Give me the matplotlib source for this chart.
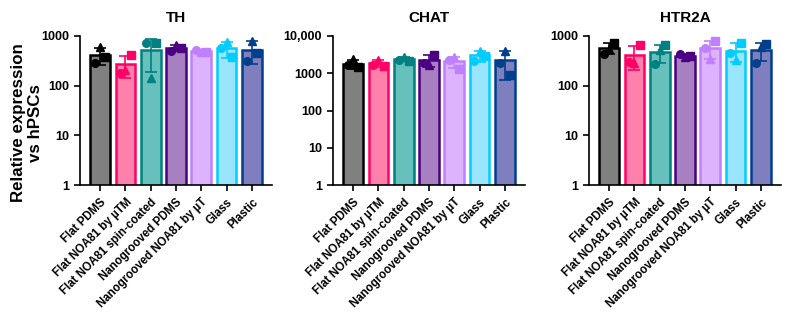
#!/usr/bin/env python3
import numpy as np
import matplotlib
matplotlib.use("Agg")
import matplotlib.pyplot as plt
from matplotlib.ticker import FixedLocator, NullLocator

plt.rcParams.update({
    "font.family": ["Liberation Sans", "DejaVu Sans"],
    "font.weight": "bold",
    "axes.linewidth": 1.2,
    "xtick.major.width": 1.2,
    "ytick.major.width": 1.2,
    "xtick.major.size": 4.5,
    "ytick.major.size": 4.5,
})

conditions = ["Flat PDMS", "Flat NOA81 by \u00b5TM", "Flat NOA81 spin-coated",
              "Nanogrooved PDMS", "Nanogrooved NOA81 by \u00b5T", "Glass", "Plastic"]
fill_colors = ["#808080", "#ff80ab", "#66c0bb", "#a680c0", "#ddb3ff", "#99e5ff", "#7f7fc0"]
edge_colors = ["#000000", "#ff0066", "#008080", "#4b0082", "#bf7fff", "#00ccff", "#003f8c"]

# replicate values per condition: (circle, square, triangle)
th_vals = [
    [290, 370, 590],
    [183, 414, 207],
    [735, 712, 141],
    [507, 580, 660],
    [520, 470, 480],
    [565, 370, 770],
    [315, 450, 805],
]
chat_vals = [
    [1620, 1460, 2390],
    [1690, 1520, 2290],
    [2290, 2150, 2700],
    [1870, 3110, 1700],
    [2290, 1320, 2700],
    [2100, 2900, 4000],
    [1870, 910, 4070],
]
htr2a_vals = [
    [440, 735, 556],
    [299, 648, 290],
    [276, 648, 513],
    [440, 389, 378],
    [573, 806, 338],
    [454, 735, 323],
    [290, 680, 590],
]

genes = ["TH", "CHAT", "HTR2A"]
gene_data = [th_vals, chat_vals, htr2a_vals]
y_tops = [1000, 10000, 1000]

markers = ["o", "s", "^"]
offsets = [-0.2, 0.2, 0.0]

fig = plt.figure(figsize=(7.92, 3.13), dpi=100)
lefts = [80 / 792, 333 / 792, 589 / 792]
w = 192 / 792

for k, (gene, vals, ytop) in enumerate(zip(genes, gene_data, y_tops)):
    ax = fig.add_axes([lefts[k], 128 / 313, w, 149 / 313])
    vals = np.array(vals, dtype=float)
    means = vals.mean(axis=1)
    sds = vals.std(axis=1, ddof=1)
    x = np.arange(len(conditions))
    ax.bar(x, means, width=0.78, color=fill_colors, edgecolor=edge_colors,
           linewidth=1.8, zorder=2)
    for i in range(len(conditions)):
        ax.errorbar(x[i], means[i], yerr=sds[i], fmt="none", ecolor=edge_colors[i],
                    elinewidth=1.2, capsize=4, capthick=1.2, zorder=3)
        for j in range(vals.shape[1]):
            ax.plot(x[i] + offsets[j], vals[i, j], marker=markers[j], ms=5.5,
                    color=edge_colors[i], mec=edge_colors[i], ls="none", zorder=4)
    ax.set_yscale("log")
    ax.set_ylim(1, ytop)
    ax.set_xlim(-0.8, 6.8)
    ticks = [10 ** p for p in range(int(np.log10(ytop)) + 1)]
    ax.yaxis.set_major_locator(FixedLocator(ticks))
    ax.yaxis.set_minor_locator(NullLocator())
    ax.set_yticklabels(["10,000" if t == 10000 else str(t) for t in ticks],
                       fontsize=9, fontweight="bold")
    ax.set_xticks(x)
    ax.set_xticklabels(conditions, rotation=45, ha="right", rotation_mode="anchor",
                       fontsize=8.3, fontweight="bold")
    ax.spines["top"].set_visible(False)
    ax.spines["right"].set_visible(False)
    ax.set_title(gene, fontsize=11, fontweight="bold", pad=10)

# shared y label, sits a bit below the axes centre like the original
fig.text(27 / 792, 1 - 123 / 313, "Relative expression\nvs hPSCs", rotation=90,
         ha="center", va="center", fontsize=12.2, fontweight="bold", linespacing=1.15)

fig.savefig("out.png", dpi=100)
